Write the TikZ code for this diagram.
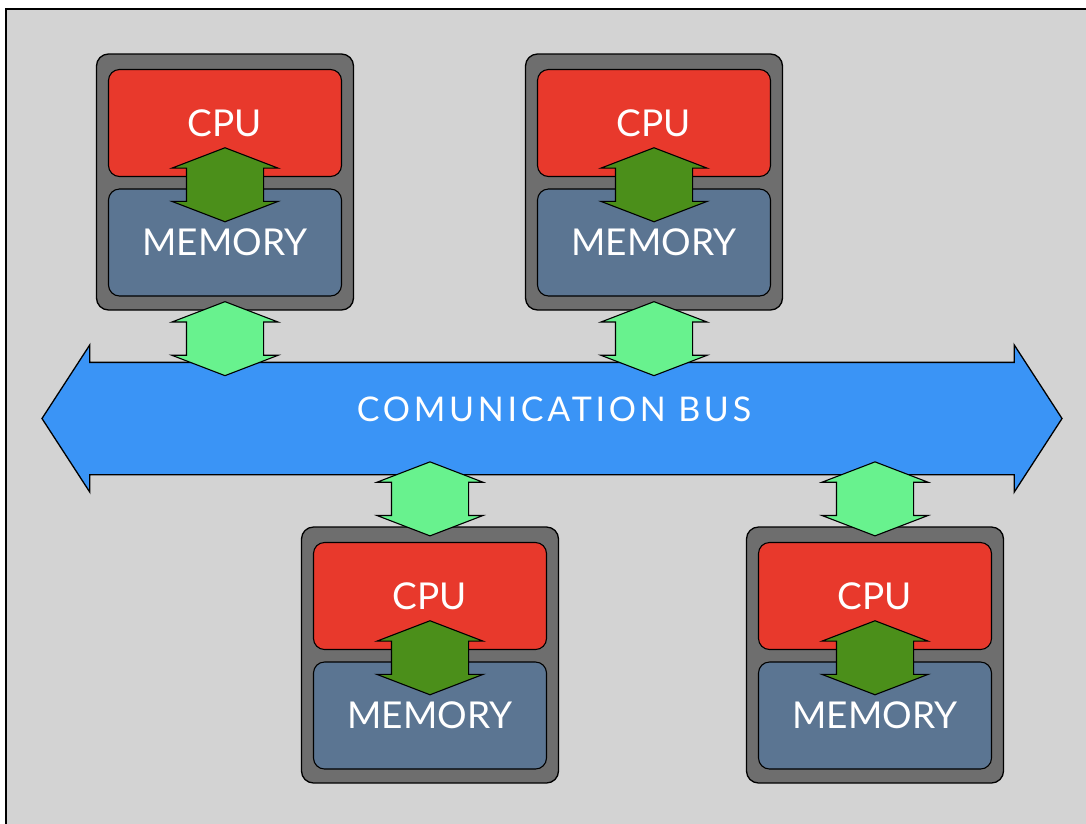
\documentclass[tikz,border=0pt]{standalone}
\usepackage{fontspec}
\setmainfont{Lato}
\newfontfamily\busfont[LetterSpace=11]{Lato}
\usetikzlibrary{shapes.arrows,calc}

\definecolor{bggray}{HTML}{D3D3D3}
\definecolor{boxgray}{HTML}{6E6E6E}
\definecolor{cpured}{HTML}{E8392C}
\definecolor{memblue}{HTML}{5B7592}
\definecolor{linkdark}{HTML}{4B8F1A}
\definecolor{linklight}{HTML}{68F28E}
\definecolor{busblue}{HTML}{3A94F6}

\begin{document}
\begin{tikzpicture}[x=1pt,y=-1pt,
	unit/.style={draw,rounded corners=12pt,line width=1.3pt,fill=boxgray,minimum width=257pt,minimum height=256pt,inner sep=0pt},
	part/.style={draw,rounded corners=11pt,line width=1.1pt,minimum width=233pt,minimum height=107pt,inner sep=0pt,text=white,font=\fontsize{37}{37}\selectfont},
	link/.style={double arrow,draw,line width=1.1pt,rotate=90,minimum height=74pt,inner xsep=0pt,inner ysep=38pt,double arrow head extend=14.5pt,double arrow tip angle=138},
	bus/.style={double arrow,draw,line width=1.3pt,fill=busblue,minimum height=1020pt,inner xsep=0pt,inner ysep=55.5pt,double arrow head extend=17.5pt,double arrow tip angle=114}]
	  \fill[white] (0,0) rectangle (1086,823);
	  \useasboundingbox (0,0) rectangle (1086,823);
	  \draw[fill=bggray,line width=2.5pt] (6,9) rectangle (1100,840);
	  \foreach \n/\cx/\ty in {1/225/54,2/654/54,3/430/527,4/875/527}{
	    \node[unit] (box\n) at (\cx,\ty+128) {};
	    \node[part,fill=cpured] (cpu\n) at (\cx,\ty+69) {CPU};
	    \node[part,fill=memblue] (mem\n) at (\cx,\ty+188.5) {MEMORY};
	    \node[link,fill=linkdark] (arr\n) at ($(cpu\n.south)!.5!(mem\n.north)+(0,2)$) {};
	  }
	  \node[bus] (bus) at (552,418.5) {};
	  \node[text=white,font=\busfont\fontsize{34}{34}\selectfont] (buslabel) at (554,409) {COMUNICATION BUS};
	  \foreach \n in {1,2}
	    \node[link,fill=linklight] (link\n) at ($(box\n.south)+(0,28)$) {};
	  \foreach \n in {3,4}
	    \node[link,fill=linklight] (link\n) at ($(box\n.north)+(0,-27.5)$) {};
	\end{tikzpicture}
\end{document}
